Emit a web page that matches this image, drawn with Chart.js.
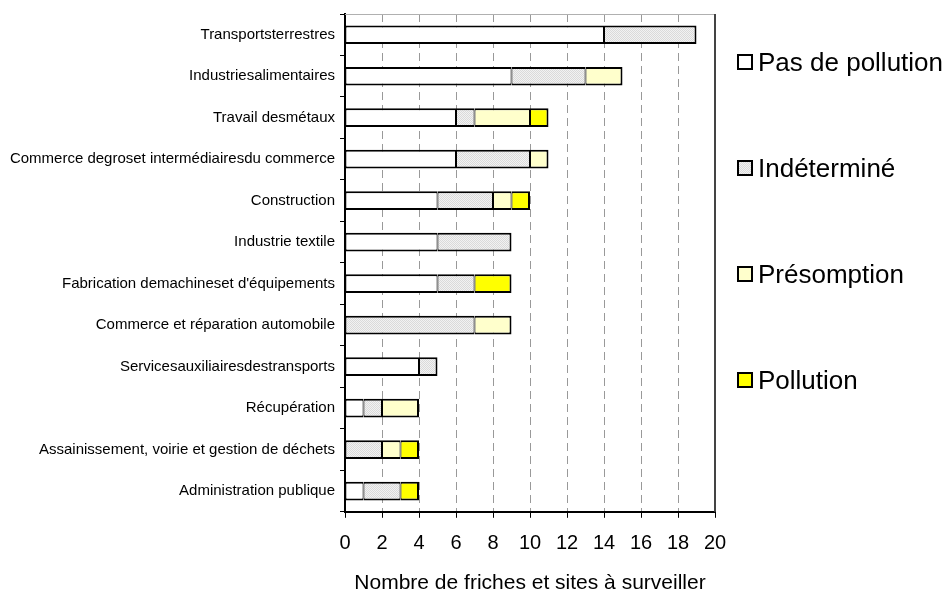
<!DOCTYPE html>
<html>
<head>
<title>Friches et sites à surveiller</title>
<script src="https://cdn.jsdelivr.net/npm/chart.js"></script>
<style>
  body { margin: 0; padding: 0; background: #fff; }
  .wrap { position: relative; width: 946px; height: 591px; }
  #legend { position: absolute; left: 737px; top: 50px; font-family: "Liberation Sans", Arial, sans-serif; font-size: 26px; color: #000; }
  #legend .item { height: 24px; line-height: 24px; margin-bottom: 82px; display: flex; align-items: center; white-space: nowrap; }
  #legend .box { width: 12px; height: 12px; border: 2px solid #000; margin-right: 5px; }
</style>
</head>
<body>
<div class="wrap">
  <canvas id="chart" width="946" height="591"></canvas>
  <div id="legend"></div>
</div>
<script>
// categories, top to bottom
const categories = [
  "Transportsterrestres",
  "Industriesalimentaires",
  "Travail desmétaux",
  "Commerce degroset intermédiairesdu commerce",
  "Construction",
  "Industrie textile",
  "Fabrication demachineset d'équipements",
  "Commerce et réparation automobile",
  "Servicesauxiliairesdestransports",
  "Récupération",
  "Assainissement, voirie et gestion de déchets",
  "Administration publique"
];

const seriesNames = ["Pas de pollution", "Indéterminé", "Présomption", "Pollution"];

const pasDePollution = [14, 9, 6, 6, 5, 5, 5, 0, 4, 1, 0, 1];
const indetermine    = [5, 4, 1, 4, 3, 4, 2, 7, 1, 1, 2, 2];
const presomption    = [0, 2, 3, 1, 1, 0, 0, 2, 0, 2, 1, 0];
const pollution      = [0, 0, 1, 0, 1, 0, 2, 0, 0, 0, 1, 1];

const xTicks = [0, 2, 4, 6, 8, 10, 12, 14, 16, 18, 20];
const xTitle = "Nombre de friches et sites à surveiller";

// dotted grey fill like the original
const pc = document.createElement('canvas');
pc.width = 2; pc.height = 2;
const pctx = pc.getContext('2d');
pctx.fillStyle = '#f2f2f2'; pctx.fillRect(0, 0, 2, 2);
pctx.fillStyle = '#dadada'; pctx.fillRect(0, 0, 1, 1); pctx.fillRect(1, 1, 1, 1);
const greyPattern = pctx.createPattern(pc, 'repeat');

const fills = ['#ffffff', greyPattern, '#ffffcc', '#ffff00'];
const legendFills = ['#ffffff', 'url(' + pc.toDataURL() + ')', '#ffffcc', '#ffff00'];
const values = [pasDePollution, indetermine, presomption, pollution];

// last non-empty segment of a row gets the full right edge
function isLastSegment(di, idx) {
  for (let k = di + 1; k < values.length; k++) if (values[k][idx] > 0) return false;
  return true;
}

const datasets = values.map((v, i) => ({
  label: seriesNames[i],
  data: v,
  backgroundColor: fills[i],
  borderColor: '#000',
  borderWidth: (c) => ({ top: 2, bottom: 2, left: 1, right: isLastSegment(c.datasetIndex, c.dataIndex) ? 2 : 1 }),
  borderSkipped: false,
  barPercentage: 0.45,
  categoryPercentage: 1
}));

// top and right edges of the plot area
const frame = {
  id: 'frame',
  afterDraw(chart) {
    const a = chart.chartArea, ctx = chart.ctx;
    ctx.save();
    ctx.lineWidth = 1;
    ctx.strokeStyle = '#b0b0b0';
    ctx.beginPath(); ctx.moveTo(a.left, a.top + 0.5); ctx.lineTo(a.right, a.top + 0.5); ctx.stroke();
    ctx.lineWidth = 2;
    ctx.strokeStyle = '#444';
    ctx.beginPath(); ctx.moveTo(a.right, a.top); ctx.lineTo(a.right, a.bottom); ctx.stroke();
    ctx.restore();
  }
};

new Chart(document.getElementById('chart'), {
  type: 'bar',
  data: { labels: categories, datasets: datasets },
  options: {
    indexAxis: 'y',
    responsive: false,
    animation: false,
    layout: { padding: { top: 12, right: 231, bottom: -5, left: 0 } },
    plugins: { legend: { display: false }, tooltip: { enabled: false } },
    scales: {
      x: {
        stacked: true,
        min: 0, max: 20,
        afterBuildTicks: (s) => { s.ticks = xTicks.map(v => ({ value: v })); },
        grid: { color: '#999', lineWidth: 1, drawTicks: true, tickLength: 6, tickColor: '#000', tickWidth: 1 },
        border: { display: true, color: '#000', width: 2, dash: [8, 5] },
        ticks: { color: '#000', padding: 14, font: { family: 'Liberation Sans', size: 20 } },
        title: { display: true, text: xTitle, color: '#000', font: { family: 'Liberation Sans', size: 21 }, padding: { top: 1, bottom: 0 } }
      },
      y: {
        stacked: true,
        afterFit: (s) => { s.width = 345; },
        grid: { offset: true, drawOnChartArea: false, drawTicks: true, tickLength: 5, tickColor: '#000', tickWidth: 1 },
        border: { display: true, color: '#000', width: 2 },
        ticks: { color: '#000', padding: 5, autoSkip: false, font: { family: 'Liberation Sans', size: 15 } }
      }
    }
  },
  plugins: [frame]
});

// legend on the right, spaced like the original
const lg = document.getElementById('legend');
seriesNames.forEach((name, i) => {
  const it = document.createElement('div');
  it.className = 'item';
  const b = document.createElement('span');
  b.className = 'box';
  b.style.background = legendFills[i];
  const t = document.createElement('span');
  t.textContent = name;
  it.appendChild(b); it.appendChild(t);
  lg.appendChild(it);
});
</script>
</body>
</html>
